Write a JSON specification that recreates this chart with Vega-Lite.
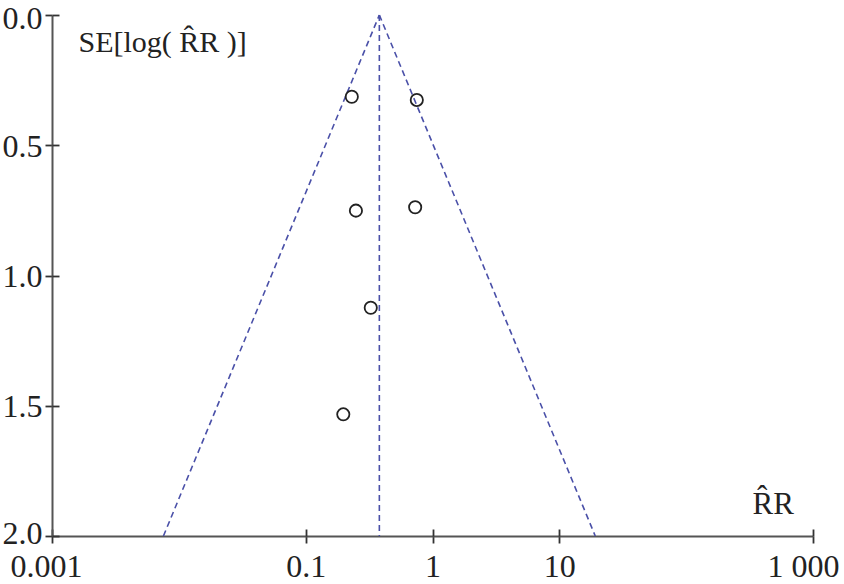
{
  "$schema": "https://vega.github.io/schema/vega-lite/v6.json",
  "width": 761,
  "height": 521,
  "autosize": {"type": "none"},
  "padding": {"left": 52, "top": 15, "right": 31, "bottom": 48},
  "background": "white",
  "config": {"view": {"stroke": null}, "font": "Liberation Serif"},
  "datasets": {
    "funnel": [
      {"line": "left", "rr": 0.381, "se": 0},
      {"line": "left", "rr": 0.00756, "se": 2},
      {"line": "right", "rr": 0.381, "se": 0},
      {"line": "right", "rr": 19.2, "se": 2},
      {"line": "center", "rr": 0.381, "se": 0},
      {"line": "center", "rr": 0.381, "se": 2}
    ],
    "studies": [
      {"rr": 0.231, "se": 0.314},
      {"rr": 0.752, "se": 0.326},
      {"rr": 0.249, "se": 0.751},
      {"rr": 0.730, "se": 0.738},
      {"rr": 0.326, "se": 1.124},
      {"rr": 0.198, "se": 1.533}
    ]
  },
  "layer": [
    {
      "data": {"name": "funnel"},
      "mark": {"type": "line", "color": "#4a50a8", "strokeWidth": 1.6, "strokeDash": [6, 4]},
      "encoding": {
        "detail": {"field": "line"},
        "x": {
          "field": "rr", "type": "quantitative",
          "scale": {"type": "log", "domain": [0.001, 1000], "nice": false},
          "axis": {
            "orient": "bottom",
            "values": [0.001, 0.1, 1, 10, 1000],
            "labelExpr": "datum.value >= 1000 ? '1 000' : datum.value >= 10 ? '10' : datum.value >= 1 ? '1' : datum.value >= 0.1 ? '0.1' : '0.001'",
            "grid": false,
            "domainColor": "#555555", "domainWidth": 2,
            "tickColor": "#333333", "tickWidth": 1.8, "tickSize": 7,
            "labelFont": "Liberation Serif", "labelFontSize": 32, "labelColor": "#222222",
            "labelPadding": 8, "labelFlush": false, "labelOverlap": false,
            "labelOffset": {"condition": [{"test": "datum.value >= 1000", "value": -10}, {"test": "datum.value <= 0.001", "value": -6}], "value": 0},
            "title": "R̂R",
            "titleFont": "Liberation Serif", "titleFontSize": 31, "titleFontWeight": "normal", "titleColor": "#222222",
            "titleAnchor": "start", "titleAlign": "left", "titleBaseline": "alphabetic",
            "titleX": 700, "titleY": -23
          }
        },
        "y": {
          "field": "se", "type": "quantitative",
          "scale": {"domain": [0, 2], "reverse": true, "nice": false, "zero": false},
          "axis": {
            "orient": "left",
            "values": [0, 0.5, 1, 1.5, 2],
            "format": ".1f",
            "grid": false,
            "domainColor": "#555555", "domainWidth": 2,
            "tickColor": "#333333", "tickWidth": 1.8, "tickSize": 7,
            "labelFont": "Liberation Serif", "labelFontSize": 32, "labelColor": "#222222",
            "labelPadding": 3, "labelFlush": false, "labelOverlap": false,
            "labelOffset": {"condition": [{"test": "datum.value <= 0", "value": 3}, {"test": "datum.value >= 2", "value": -3}], "value": 1},
            "title": "SE[log( R̂R )]",
            "titleFont": "Liberation Serif", "titleFontSize": 30, "titleFontWeight": "normal", "titleColor": "#222222",
            "titleAngle": 0, "titleAlign": "left", "titleBaseline": "alphabetic", "titleAnchor": "start",
            "titleX": 26, "titleY": 36
          }
        }
      }
    },
    {
      "data": {"name": "studies"},
      "mark": {"type": "point", "shape": "circle", "filled": false, "stroke": "#222222", "strokeWidth": 1.8, "size": 150, "opacity": 1},
      "encoding": {
        "x": {
          "field": "rr", "type": "quantitative",
          "axis": {
            "orient": "bottom", "offset": -7,
            "values": [0.001, 0.1, 1, 10, 1000],
            "domain": false, "labels": false, "grid": false, "title": null,
            "tickColor": "#333333", "tickWidth": 1.8, "tickSize": 7
          }
        },
        "y": {
          "field": "se", "type": "quantitative",
          "axis": {
            "orient": "left", "offset": -7,
            "values": [0, 0.5, 1, 1.5, 2],
            "domain": false, "labels": false, "grid": false, "title": null,
            "tickColor": "#333333", "tickWidth": 1.8, "tickSize": 7
          }
        }
      }
    }
  ],
  "resolve": {"axis": {"x": "independent", "y": "independent"}}
}
